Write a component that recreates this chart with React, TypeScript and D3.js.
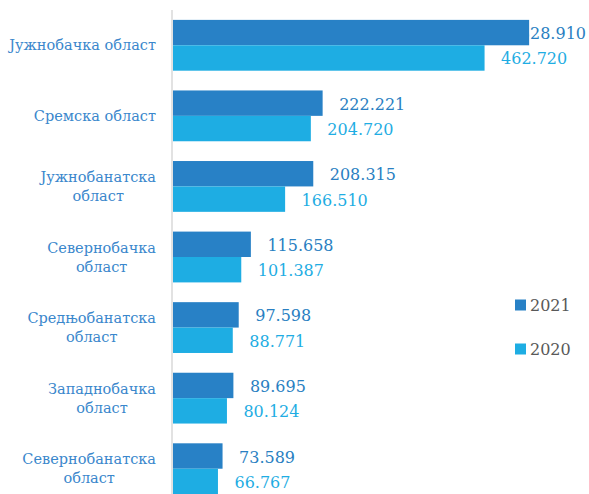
import * as d3 from "d3";
import React, { useEffect, useRef } from "react";

const categories = [
  "Јужнобачка област",
  "Сремска област",
  "Јужнобанатска област",
  "Севернобачка област",
  "Средњобанатска област",
  "Западнобачка област",
  "Севернобанатска област",
];
const series = ["2021", "2020"];
const values2021 = [528.91, 222.221, 208.315, 115.658, 97.598, 89.695, 73.589];
const values2020 = [462.72, 204.72, 166.51, 101.387, 88.771, 80.124, 66.767];
const labels2021 = ["528.910", "222.221", "208.315", "115.658", "97.598", "89.695", "73.589"];
const labels2020 = ["462.720", "204.720", "166.510", "101.387", "88.771", "80.124", "66.767"];

const colors = ["#2881c6", "#1eade3"];
const labelColors = ["#2a7fc2", "#1fade3"];
const catColor = "#3a87cc";
const font = "'DejaVu Serif', 'DejaVu Sans', sans-serif";

export default function App() {
  const svgRef = useRef<SVGSVGElement>(null);

  useEffect(() => {
    const width = 589;
    const height = 494;
    const svg = d3.select(svgRef.current).attr("width", width).attr("height", height);
    svg.selectAll("*").remove();

    const y = d3
      .scaleBand()
      .domain(categories)
      .range([10, 504])
      .paddingInner(0.28)
      .paddingOuter(0.14);
    const ySub = d3.scaleBand().domain(series).range([0, y.bandwidth()]);
    const x = d3.scaleLinear().domain([0, 600]).range([173, 577]);

    const rows = categories.map((c, i) => ({
      cat: c,
      vals: [values2021[i], values2020[i]],
      labs: [labels2021[i], labels2020[i]],
    }));

    // value labels (drawn first, bars may cover them)
    const g = svg.append("g");
    rows.forEach((r) => {
      series.forEach((s, j) => {
        const cy = (y(r.cat) as number) + (ySub(s) as number) + ySub.bandwidth() / 2 + 1;
        const t = g
          .append("text")
          .attr("y", cy)
          .attr("dominant-baseline", "central")
          .attr("font-family", font)
          .attr("font-size", 16)
          .attr("fill", labelColors[j])
          .text(r.labs[j]);
        const xs = x(r.vals[j]) + 16.5;
        const w = (t.node() as SVGTextElement).getComputedTextLength();
        if (xs + w > 586) t.attr("x", 586).attr("text-anchor", "end");
        else t.attr("x", xs);
      });
    });

    // bars
    rows.forEach((r) => {
      series.forEach((s, j) => {
        svg
          .append("rect")
          .attr("x", x(0))
          .attr("y", (y(r.cat) as number) + (ySub(s) as number))
          .attr("width", x(r.vals[j]) - x(0))
          .attr("height", ySub.bandwidth())
          .attr("fill", colors[j]);
      });
    });

    // axis line
    svg
      .append("line")
      .attr("x1", 172)
      .attr("x2", 172)
      .attr("y1", 10)
      .attr("y2", height)
      .attr("stroke", "#d9d9d9")
      .attr("stroke-width", 1.5);

    // category labels, wrapped and centered in a right-aligned block
    const maxW = 152;
    const rightX = 156;
    const catSize = 14.5;
    categories.forEach((c) => {
      const words = c.split(" ");
      const probe = svg
        .append("text")
        .attr("font-family", font)
        .attr("font-size", catSize);
      const measure = (s: string) => {
        probe.text(s);
        return (probe.node() as SVGTextElement).getComputedTextLength();
      };
      const lines: string[] = [];
      let cur = "";
      words.forEach((w) => {
        const test = cur ? cur + " " + w : w;
        if (cur && measure(test) > maxW) {
          lines.push(cur);
          cur = w;
        } else cur = test;
      });
      lines.push(cur);
      const blockW = d3.max(lines, (l) => measure(l)) as number;
      probe.remove();
      const cy = (y(c) as number) + y.bandwidth() / 2;
      const lh = 19;
      lines.forEach((l, k) => {
        svg
          .append("text")
          .attr("x", rightX - blockW / 2)
          .attr("y", cy + (k - (lines.length - 1) / 2) * lh)
          .attr("text-anchor", "middle")
          .attr("dominant-baseline", "central")
          .attr("font-family", font)
          .attr("font-size", catSize)
          .attr("fill", catColor)
          .text(l);
      });
    });

    // legend
    const legY = [305, 349];
    series.forEach((s, j) => {
      svg
        .append("rect")
        .attr("x", 515)
        .attr("y", legY[j] - 5.5)
        .attr("width", 11)
        .attr("height", 11)
        .attr("fill", colors[j]);
      svg
        .append("text")
        .attr("x", 530)
        .attr("y", legY[j])
        .attr("dominant-baseline", "central")
        .attr("font-family", font)
        .attr("font-size", 16)
        .attr("fill", "#595959")
        .text(s);
    });
  }, []);

  return (
    <svg
      ref={svgRef}
      style={{ position: "absolute", left: 0, top: 0, display: "block", background: "#fff" }}
    ></svg>
  );
}
